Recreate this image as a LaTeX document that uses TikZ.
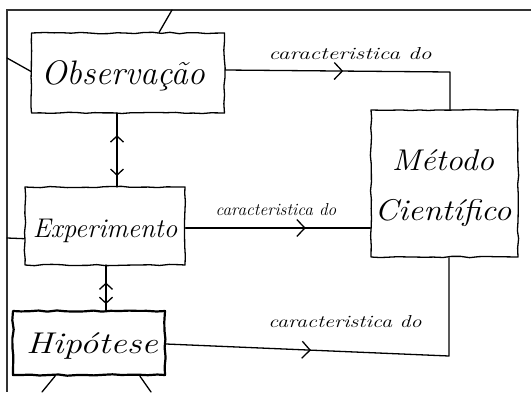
\documentclass[tikz,border=0pt]{standalone}
\usepackage{fontspec}
\usetikzlibrary{arrows.meta,decorations.markings,decorations.pathmorphing,calc}
% stretch handwriting-like text sideways
\newcommand{\widen}[2]{\scalebox{#1}[1]{#2}}
\begin{document}
\begin{tikzpicture}[x=1pt,y=-1pt,
  ink/.style={line width=1.3pt,black,line join=round,line cap=round},
  sketchbox/.style={ink,draw,rectangle,inner sep=0pt,
    decorate,decoration={random steps,segment length=9pt,amplitude=0.7pt}},
  wire/.style={ink},
  handtip/.tip={Straight Barb[length=6pt,width=13pt,line width=1.3pt]},
  bigtip/.tip={Straight Barb[length=8pt,width=17pt,line width=1.3pt]},
  midtip/.style={postaction={decorate},decoration={markings,
    mark=at position #1 with {\arrow{bigtip}}}},
  twotips/.style 2 args={postaction={decorate},decoration={markings,
    mark=at position #1 with {\arrowreversed{handtip}},
    mark=at position #2 with {\arrow{handtip}}}},
  hand/.style={font=\itshape\fontsize{#1}{#1}\selectfont},
  hand/.default=28,
  note/.style={font=\itshape\fontsize{17.3}{20}\selectfont},
  frameline/.style={line width=1.6pt,black!80}]
\pgfmathsetseed{7}
\useasboundingbox (0,0) rectangle (531,392);

% outer frame (top and left edges)
\coordinate (fTL) at (7,10);
\coordinate (fTR) at (531,10);
\coordinate (fBL) at (7,392);
\draw[frameline] (fTR) -- (fTL) -- (fBL);

% boxes
\node[sketchbox,minimum width=193pt,minimum height=80pt] (obs) at (128,73) {};
\node[hand=34] (obsT) at (123,76) {Observação};
\node[sketchbox,minimum width=160pt,minimum height=78pt] (exp) at (105,226) {};
\node[hand=27] (expT) at (105,231) {Experimento};
\node[sketchbox,minimum width=152pt,minimum height=64pt,line width=2.2pt] (hip) at (89,343) {};
\node[hand=30] (hipT) at (92,346) {\widen{1.22}{Hipótese}};
\node[sketchbox,minimum width=147pt,minimum height=147pt] (met) at (444.5,183.5) {};
\node[hand=30,align=center] (metT) at (443,188) {\widen{1.1}{Método}\\[20pt]\widen{1.12}{Científico}};

% loose strokes leaving the boxes
\coordinate (a1) at (172,10);
\coordinate (a2) at (7,58);
\coordinate (a3) at (7,238);
\coordinate (a4) at (42,392);
\coordinate (a5) at (151,392);
\draw[wire] ($(obs.north west)!0.66!(obs.north east)$) -- (a1);
\draw[wire] ($(obs.north west)!0.48!(obs.south west)$) -- (a2);
\draw[wire] ($(exp.north west)!0.66!(exp.south west)$) -- (a3);
\draw[wire] ($(hip.south west)!0.28!(hip.south east)$) -- (a4);
\draw[wire] ($(hip.south west)!0.83!(hip.south east)$) -- (a5);

% two-way links between the stacked boxes
\coordinate (oe1) at (117,113);
\coordinate (oe2) at (117,187);
\draw[wire,twotips={0.3}{0.85}] (oe1) -- (oe2);
\coordinate (eh1) at (106,265);
\coordinate (eh2) at (106,311);
\draw[wire,twotips={0.38}{0.85}] (eh1) -- (eh2);

% links into Método Científico
\coordinate (c1) at (450,72);
\draw[wire,midtip={0.45}] (obs.east |- 0,70) -- (c1) -- (c1 |- met.north);
\draw[wire,midtip={0.65}] (exp.east |- 0,228) -- (met.west |- 0,228);
\coordinate (c3) at (449,356);
\draw[wire,midtip={0.38}] (hip.east |- 0,344) -- (c3) -- (c3 |- met.south);

% link labels
\node[note] (l1) at (350,54) {\widen{1.35}{caracteristica do}};
\node[note] (l2) at (276,210) {\widen{1.0}{caracteristica do}};
\node[note] (l3) at (345,322) {\widen{1.27}{caracteristica do}};
\end{tikzpicture}
\end{document}
